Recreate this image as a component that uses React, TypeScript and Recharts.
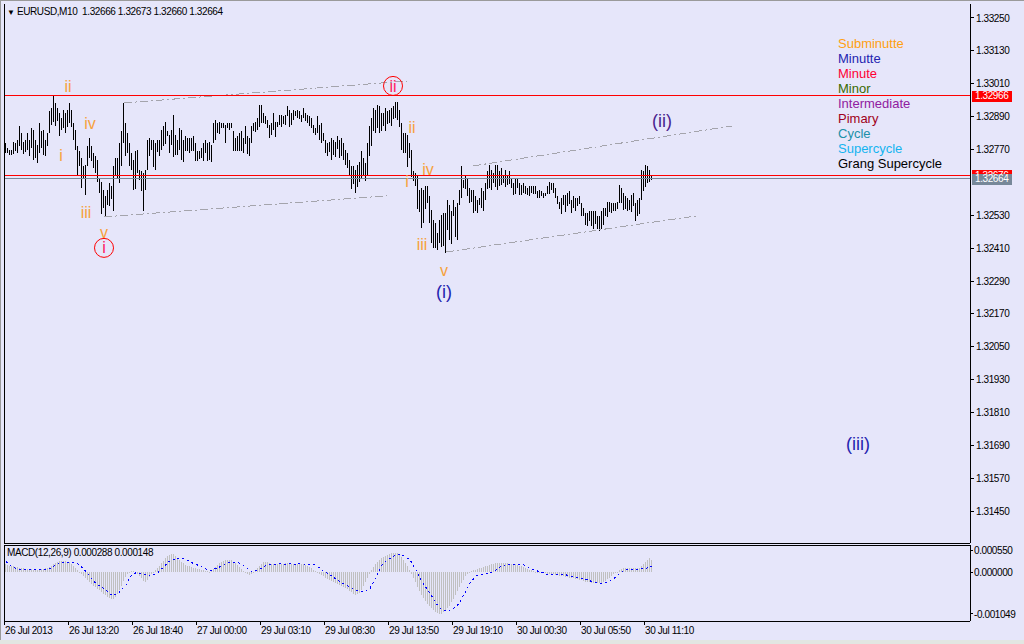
import React from 'react'
import {
  ComposedChart, Bar, Line, XAxis, YAxis, ReferenceLine, ReferenceDot,
} from 'recharts'

// EURUSD M10 bars (high / low per bar)
const highs = [
  1.32793, 1.32775, 1.32769, 1.32769, 1.32799, 1.32793, 1.32805, 1.32854, 1.32830, 1.32799,
  1.32805, 1.32830, 1.32805, 1.32848, 1.32842, 1.32805, 1.32787, 1.32866, 1.32836, 1.32842,
  1.32805, 1.32830, 1.32909, 1.32921, 1.32966, 1.32939, 1.32921, 1.32903, 1.32885, 1.32915,
  1.32903, 1.32915, 1.32939, 1.32915, 1.32866, 1.32842, 1.32781, 1.32763, 1.32739, 1.32708,
  1.32714, 1.32781, 1.32812, 1.32781, 1.32757, 1.32745, 1.32732, 1.32665, 1.32653, 1.32623,
  1.32599, 1.32623, 1.32647, 1.32635, 1.32708, 1.32739, 1.32739, 1.32793, 1.32836, 1.32939,
  1.32866, 1.32830, 1.32793, 1.32757, 1.32732, 1.32763, 1.32769, 1.32696, 1.32690, 1.32684,
  1.32696, 1.32805, 1.32812, 1.32805, 1.32805, 1.32793, 1.32805, 1.32805, 1.32842, 1.32854,
  1.32872, 1.32836, 1.32824, 1.32842, 1.32897, 1.32824, 1.32805, 1.32848, 1.32842, 1.32805,
  1.32818, 1.32812, 1.32812, 1.32812, 1.32818, 1.32793, 1.32763, 1.32763, 1.32775, 1.32793,
  1.32805, 1.32793, 1.32799, 1.32787, 1.32866, 1.32878, 1.32866, 1.32872, 1.32866, 1.32866,
  1.32860, 1.32866, 1.32866, 1.32866, 1.32836, 1.32812, 1.32818, 1.32830, 1.32836, 1.32812,
  1.32854, 1.32818, 1.32812, 1.32854, 1.32866, 1.32872, 1.32885, 1.32933, 1.32933, 1.32903,
  1.32891, 1.32878, 1.32860, 1.32866, 1.32903, 1.32872, 1.32872, 1.32897, 1.32897, 1.32891,
  1.32897, 1.32927, 1.32915, 1.32903, 1.32915, 1.32909, 1.32915, 1.32909, 1.32897, 1.32921,
  1.32903, 1.32897, 1.32891, 1.32885, 1.32860, 1.32848, 1.32891, 1.32860, 1.32866, 1.32830,
  1.32805, 1.32793, 1.32799, 1.32812, 1.32805, 1.32799, 1.32818, 1.32805, 1.32812, 1.32793,
  1.32769, 1.32757, 1.32732, 1.32708, 1.32708, 1.32696, 1.32714, 1.32726, 1.32763, 1.32739,
  1.32720, 1.32793, 1.32854, 1.32885, 1.32921, 1.32915, 1.32933, 1.32927, 1.32903, 1.32903,
  1.32921, 1.32909, 1.32915, 1.32921, 1.32927, 1.32945, 1.32945, 1.32915, 1.32866, 1.32830,
  1.32830, 1.32824, 1.32793, 1.32769, 1.32690, 1.32684, 1.32672, 1.32623, 1.32629, 1.32623,
  1.32635, 1.32635, 1.32599, 1.32550, 1.32513, 1.32501, 1.32465, 1.32513, 1.32532, 1.32538,
  1.32538, 1.32586, 1.32568, 1.32544, 1.32586, 1.32562, 1.32574, 1.32623, 1.32708, 1.32659,
  1.32672, 1.32665, 1.32629, 1.32623, 1.32623, 1.32599, 1.32586, 1.32592, 1.32629, 1.32617,
  1.32647, 1.32690, 1.32714, 1.32696, 1.32684, 1.32714, 1.32714, 1.32690, 1.32702, 1.32678,
  1.32696, 1.32678, 1.32690, 1.32665, 1.32647, 1.32665, 1.32665, 1.32647, 1.32641, 1.32647,
  1.32635, 1.32629, 1.32635, 1.32635, 1.32635, 1.32635, 1.32617, 1.32623, 1.32617, 1.32611,
  1.32611, 1.32635, 1.32653, 1.32647, 1.32647, 1.32629, 1.32599, 1.32580, 1.32592, 1.32605,
  1.32605, 1.32611, 1.32617, 1.32586, 1.32599, 1.32592, 1.32592, 1.32599, 1.32574, 1.32556,
  1.32538, 1.32538, 1.32544, 1.32544, 1.32544, 1.32544, 1.32526, 1.32526, 1.32544, 1.32556,
  1.32556, 1.32580, 1.32580, 1.32574, 1.32574, 1.32574, 1.32580, 1.32641, 1.32629, 1.32611,
  1.32599, 1.32592, 1.32586, 1.32605, 1.32611, 1.32574, 1.32586, 1.32592, 1.32696, 1.32690,
  1.32714, 1.32708, 1.32696, 1.32673,
]

const lows = [
  1.32757, 1.32757, 1.32751, 1.32751, 1.32757, 1.32763, 1.32757, 1.32781, 1.32769, 1.32757,
  1.32763, 1.32769, 1.32745, 1.32775, 1.32732, 1.32739, 1.32720, 1.32757, 1.32775, 1.32751,
  1.32745, 1.32781, 1.32830, 1.32860, 1.32872, 1.32854, 1.32872, 1.32818, 1.32842, 1.32848,
  1.32830, 1.32854, 1.32866, 1.32854, 1.32805, 1.32769, 1.32672, 1.32708, 1.32629, 1.32659,
  1.32605, 1.32708, 1.32739, 1.32726, 1.32702, 1.32684, 1.32653, 1.32611, 1.32538, 1.32556,
  1.32526, 1.32568, 1.32562, 1.32586, 1.32544, 1.32678, 1.32665, 1.32647, 1.32708, 1.32793,
  1.32745, 1.32757, 1.32708, 1.32696, 1.32623, 1.32623, 1.32684, 1.32659, 1.32617, 1.32544,
  1.32623, 1.32696, 1.32745, 1.32769, 1.32708, 1.32696, 1.32763, 1.32745, 1.32769, 1.32781,
  1.32793, 1.32818, 1.32757, 1.32787, 1.32745, 1.32751, 1.32751, 1.32769, 1.32732, 1.32726,
  1.32763, 1.32763, 1.32757, 1.32763, 1.32763, 1.32726, 1.32726, 1.32732, 1.32739, 1.32726,
  1.32757, 1.32726, 1.32732, 1.32726, 1.32793, 1.32805, 1.32830, 1.32830, 1.32848, 1.32848,
  1.32793, 1.32848, 1.32842, 1.32848, 1.32763, 1.32763, 1.32763, 1.32763, 1.32763, 1.32757,
  1.32787, 1.32751, 1.32745, 1.32793, 1.32836, 1.32836, 1.32842, 1.32854, 1.32866, 1.32866,
  1.32860, 1.32848, 1.32812, 1.32824, 1.32842, 1.32818, 1.32854, 1.32860, 1.32854, 1.32860,
  1.32860, 1.32891, 1.32854, 1.32860, 1.32878, 1.32891, 1.32885, 1.32878, 1.32872, 1.32885,
  1.32872, 1.32866, 1.32854, 1.32848, 1.32830, 1.32824, 1.32830, 1.32805, 1.32793, 1.32799,
  1.32757, 1.32745, 1.32763, 1.32732, 1.32751, 1.32745, 1.32769, 1.32739, 1.32745, 1.32732,
  1.32714, 1.32702, 1.32672, 1.32623, 1.32641, 1.32611, 1.32635, 1.32653, 1.32659, 1.32672,
  1.32653, 1.32678, 1.32745, 1.32781, 1.32836, 1.32830, 1.32848, 1.32830, 1.32836, 1.32854,
  1.32836, 1.32860, 1.32866, 1.32854, 1.32878, 1.32885, 1.32878, 1.32854, 1.32769, 1.32757,
  1.32757, 1.32708, 1.32739, 1.32672, 1.32653, 1.32635, 1.32550, 1.32544, 1.32483, 1.32501,
  1.32550, 1.32574, 1.32501, 1.32428, 1.32410, 1.32410, 1.32404, 1.32428, 1.32416, 1.32416,
  1.32392, 1.32477, 1.32440, 1.32422, 1.32526, 1.32453, 1.32440, 1.32568, 1.32592, 1.32629,
  1.32623, 1.32599, 1.32574, 1.32580, 1.32538, 1.32544, 1.32538, 1.32568, 1.32556, 1.32544,
  1.32586, 1.32623, 1.32629, 1.32623, 1.32647, 1.32635, 1.32623, 1.32635, 1.32641, 1.32647,
  1.32635, 1.32641, 1.32641, 1.32629, 1.32605, 1.32605, 1.32629, 1.32605, 1.32605, 1.32611,
  1.32605, 1.32605, 1.32599, 1.32611, 1.32605, 1.32605, 1.32592, 1.32592, 1.32599, 1.32592,
  1.32599, 1.32605, 1.32611, 1.32623, 1.32611, 1.32592, 1.32568, 1.32556, 1.32532, 1.32568,
  1.32544, 1.32562, 1.32568, 1.32538, 1.32556, 1.32544, 1.32562, 1.32568, 1.32526, 1.32526,
  1.32495, 1.32489, 1.32507, 1.32489, 1.32477, 1.32495, 1.32477, 1.32471, 1.32477, 1.32495,
  1.32526, 1.32526, 1.32544, 1.32538, 1.32544, 1.32544, 1.32556, 1.32574, 1.32574, 1.32550,
  1.32550, 1.32544, 1.32550, 1.32544, 1.32562, 1.32507, 1.32526, 1.32532, 1.32586, 1.32617,
  1.32635, 1.32647, 1.32653, 1.32660,
]

const lastOpen = 1.32666
const lastClose = 1.32664

// MACD(12,26,9): main (histogram) and signal (dotted)
const macdMain = [
  0.00020, 0.00018, 0.00016, 0.00015, 0.00014, 0.00013, 0.00012, 0.00011,
  0.00010, 0.00009, 0.00008, 0.00008, 0.00007, 0.00007, 0.00006, 0.00006, 0.00006, 0.00007, 0.00007, 0.00008, 0.00009, 0.00010, 0.00012,
  0.00015, 0.00019, 0.00022, 0.00025, 0.00027, 0.00028, 0.00028, 0.00027, 0.00026, 0.00024, 0.00020, 0.00016, 0.00010, 0.00005, 0.00001,
  -0.00005, -0.00010, -0.00016, -0.00021, -0.00026, -0.00030, -0.00034, -0.00038, -0.00042, -0.00046, -0.00050, -0.00054,
  -0.00058, -0.00062, -0.00066, -0.00068, -0.00067, -0.00062, -0.00055, -0.00046, -0.00035, -0.00022, -0.00012, -0.00006,
  -0.00002, 0.00002, 0.00003, 0.00001, -0.00004, -0.00010, -0.00016, -0.00022, -0.00024, -0.00020, -0.00012, -0.00006, 0.00000, 0.00005,
  0.00010, 0.00016, 0.00022, 0.00028, 0.00034, 0.00039, 0.00043, 0.00045, 0.00044, 0.00040, 0.00035, 0.00030, 0.00026, 0.00022, 0.00018,
  0.00016, 0.00014, 0.00012, 0.00011, 0.00010, 0.00008, 0.00007, 0.00006, 0.00004, 0.00003, 0.00002, 0.00001, 0.00002,
  0.00008, 0.00013, 0.00018, 0.00022, 0.00025, 0.00027, 0.00029, 0.00030, 0.00030, 0.00029, 0.00026, 0.00022, 0.00018, 0.00013, 0.00008, 0.00003, -0.00002,
  -0.00006, -0.00008, -0.00005, -0.00001, 0.00004,
  0.00010, 0.00016, 0.00021, 0.00024, 0.00025, 0.00024, 0.00022, 0.00021, 0.00021, 0.00020, 0.00020, 0.00020, 0.00021, 0.00021,
  0.00022, 0.00022, 0.00022, 0.00021, 0.00021, 0.00021, 0.00020, 0.00020, 0.00019, 0.00019, 0.00017, 0.00015, 0.00012, 0.00009,
  0.00005, 0.00002, -0.00002, -0.00005,
  -0.00008, -0.00011, -0.00014, -0.00017, -0.00020, -0.00023, -0.00026, -0.00028, -0.00030, -0.00032, -0.00034, -0.00037, -0.00040,
  -0.00043, -0.00047, -0.00051, -0.00055, -0.00057, -0.00056, -0.00052, -0.00045, -0.00036, -0.00026, -0.00016, -0.00006, 0.00004,
  0.00013, 0.00020, 0.00026, 0.00031, 0.00035, 0.00038, 0.00041, 0.00043, 0.00045, 0.00047, 0.00048, 0.00048, 0.00047, 0.00044,
  0.00038, 0.00031, 0.00023, 0.00014, 0.00005,
  -0.00005, -0.00016, -0.00026, -0.00037, -0.00047, -0.00057, -0.00066, -0.00073, -0.00079, -0.00085, -0.00091, -0.00096, -0.00100,
  -0.00103, -0.00105, -0.00104, -0.00101, -0.00097, -0.00091, -0.00084, -0.00076, -0.00067, -0.00058, -0.00048, -0.00038, -0.00028,
  -0.00019, -0.00011, -0.00005, -0.00001,
  0.00003, 0.00005, 0.00006, 0.00008, 0.00009, 0.00010, 0.00012, 0.00014, 0.00016, 0.00018, 0.00020, 0.00021, 0.00022, 0.00023, 0.00023,
  0.00023, 0.00023, 0.00022, 0.00022, 0.00021, 0.00021, 0.00020, 0.00019, 0.00018, 0.00016, 0.00014, 0.00012, 0.00010, 0.00008, 0.00006,
  0.00004, 0.00002, 0.00001, 0.00000, -0.00001, -0.00002, -0.00003, -0.00003, -0.00004, -0.00004, -0.00005, -0.00006, -0.00007, -0.00008, -0.00009,
  -0.00010, -0.00011, -0.00012, -0.00013, -0.00014, -0.00015, -0.00016, -0.00017, -0.00018, -0.00019, -0.00021, -0.00022, -0.00024, -0.00025,
  -0.00026, -0.00027, -0.00027, -0.00028, -0.00028, -0.00028, -0.00027, -0.00025, -0.00022, -0.00018, -0.00014, -0.00010, -0.00006, -0.00002, 0.00001,
  0.00004, 0.00007, 0.00009, 0.00010, 0.00010, 0.00010, 0.00010, 0.00010, 0.00009, 0.00009, 0.00010, 0.00014,
  0.00019, 0.00024, 0.00030, 0.00035, 0.000288,
]

const macdSignal = [
  0.00026, 0.00021, 0.00017, 0.00014, 0.00011, 0.00009, 0.00008, 0.00007,
  0.00007, 0.00007, 0.00007, 0.00007, 0.00006, 0.00006, 0.00006, 0.00006, 0.00006, 0.00006, 0.00007, 0.00007, 0.00007, 0.00008,
  0.00009, 0.00012, 0.00015, 0.00018, 0.00020, 0.00022, 0.00023, 0.00023, 0.00024, 0.00024, 0.00024, 0.00024, 0.00023, 0.00022,
  0.00020, 0.00016, 0.00011, 0.00006, 0.00001,
  -0.00005, -0.00011, -0.00018, -0.00024, -0.00028, -0.00032, -0.00036, -0.00039, -0.00042, -0.00045, -0.00050, -0.00055, -0.00058,
  -0.00058, -0.00056, -0.00053, -0.00049, -0.00043, -0.00037, -0.00032, -0.00022, -0.00012,
  -0.00008, -0.00004, -0.00002, -0.00002, -0.00003, -0.00003, -0.00005, -0.00007, -0.00009, -0.00010, -0.00009, -0.00007, -0.00005, -0.00001,
  0.00004, 0.00009, 0.00014, 0.00019, 0.00024, 0.00028, 0.00030, 0.00032, 0.00034, 0.00034, 0.00034, 0.00033, 0.00033, 0.00032,
  0.00029, 0.00026, 0.00023, 0.00021, 0.00019, 0.00017, 0.00015, 0.00012, 0.00010, 0.00007, 0.00006, 0.00005, 0.00005,
  0.00007, 0.00009, 0.00011, 0.00013, 0.00016, 0.00019, 0.00022, 0.00023, 0.00024, 0.00024, 0.00024, 0.00023, 0.00023, 0.00022,
  0.00019, 0.00015, 0.00012, 0.00008, 0.00004, 0.00001,
  0.00002, 0.00004, 0.00005, 0.00007, 0.00010, 0.00014, 0.00017, 0.00018, 0.00019,
  0.00020, 0.00020, 0.00020, 0.00021, 0.00021, 0.00020, 0.00020, 0.00020, 0.00021, 0.00021, 0.00020,
  0.00020, 0.00020, 0.00020, 0.00021, 0.00021, 0.00020, 0.00020, 0.00020, 0.00020, 0.00020, 0.00019,
  0.00017, 0.00013, 0.00009, 0.00005, 0.00002, -0.00001, -0.00004, -0.00007, -0.00011, -0.00014, -0.00018, -0.00021, -0.00024, -0.00027,
  -0.00030, -0.00032, -0.00035, -0.00037, -0.00040, -0.00043, -0.00045, -0.00046, -0.00047, -0.00048, -0.00048, -0.00047, -0.00044, -0.00041,
  -0.00032, -0.00022, -0.00012, -0.00002, 0.00008, 0.00017, 0.00022, 0.00027, 0.00031, 0.00034, 0.00037, 0.00040, 0.00042, 0.00043,
  0.00043, 0.00042, 0.00040, 0.00037, 0.00034, 0.00030,
  0.00022, 0.00013, 0.00005, -0.00005, -0.00015, -0.00024, -0.00031, -0.00039, -0.00046, -0.00053, -0.00061, -0.00070, -0.00078, -0.00084,
  -0.00090, -0.00095, -0.00096, -0.00096, -0.00096, -0.00095, -0.00093, -0.00090, -0.00087, -0.00081, -0.00074, -0.00066, -0.00056, -0.00047,
  -0.00037, -0.00028,
  -0.00022, -0.00016, -0.00010, -0.00009, -0.00007, -0.00006, -0.00005, -0.00004, -0.00003, -0.00002, 0.00000, 0.00002, 0.00005, 0.00008,
  0.00012, 0.00015, 0.00017, 0.00018, 0.00019,
  0.00019, 0.00020, 0.00020, 0.00020, 0.00019, 0.00019, 0.00019,
  0.00018, 0.00015, 0.00012, 0.00009, 0.00007, 0.00005, 0.00004, 0.00002, 0.00001, -0.00001, -0.00003, -0.00005, -0.00005, -0.00005,
  -0.00005, -0.00005, -0.00005, -0.00005, -0.00005,
  -0.00006, -0.00006, -0.00007, -0.00009, -0.00010, -0.00012, -0.00013, -0.00014, -0.00015, -0.00016, -0.00017, -0.00017, -0.00018, -0.00020,
  -0.00022, -0.00024, -0.00025, -0.00026, -0.00027, -0.00028, -0.00028, -0.00028, -0.00027, -0.00025, -0.00023, -0.00020, -0.00016, -0.00011,
  -0.00007, -0.00003,
  0.00000, 0.00003, 0.00005, 0.00006, 0.00007, 0.00007, 0.00007, 0.00007, 0.00007, 0.00007, 0.00008, 0.00008, 0.00009, 0.00011, 0.00013, 0.000148,
]

const priceTicks = [
  1.3325, 1.3313, 1.3301, 1.3289, 1.3277, 1.3253, 1.3241, 1.3229,
  1.3217, 1.3205, 1.3193, 1.3181, 1.3169, 1.3157, 1.3145,
]
const macdTicks = [0.00055, 0, -0.001049]

const timeTicks = [-1, 31, 63, 95, 127, 159, 191, 223, 255, 287, 319]
const timeLabels = [
  '26 Jul 2013', '26 Jul 13:20', '26 Jul 18:40', '27 Jul 00:00', '29 Jul 03:10', '29 Jul 08:30',
  '29 Jul 13:50', '29 Jul 19:10', '30 Jul 00:30', '30 Jul 05:50', '30 Jul 11:10',
]

const priceLevels = [
  { value: 1.32966, color: '#ff0000' },
  { value: 1.32676, color: '#ff0000' },
  { value: 1.32664, color: '#778899' },
]

// channel lines: [bar1, price1, bar2, price2]
const channels = [
  [59, 1.3294, 200.5, 1.3302],
  [49, 1.32524, 190.5, 1.32601],
  [233.5, 1.3271, 363, 1.32856],
  [220, 1.32396, 345.5, 1.32528],
]

const ORANGE = '#f7a13c'
const NAVY = '#2424b0'

const waveLabels = [
  { text: 'ii', bar: 31, price: 1.33001, color: ORANGE, size: 16 },
  { text: 'iv', bar: 42, price: 1.32867, color: ORANGE, size: 16 },
  { text: 'i', bar: 27.5, price: 1.32747, color: ORANGE, size: 16 },
  { text: 'iii', bar: 40, price: 1.32542, color: ORANGE, size: 16 },
  { text: 'v', bar: 49, price: 1.32466, color: ORANGE, size: 16 },
  { text: 'i', bar: 49, price: 1.32411, color: '#ff2060', size: 16, circle: true },
  { text: 'ii', bar: 193.5, price: 1.33002, color: '#ff2060', size: 16, circle: true },
  { text: 'ii', bar: 203, price: 1.32852, color: ORANGE, size: 16 },
  { text: 'iv', bar: 211, price: 1.32696, color: ORANGE, size: 16 },
  { text: 'i', bar: 200.5, price: 1.32652, color: ORANGE, size: 16 },
  { text: 'iii', bar: 208, price: 1.32425, color: ORANGE, size: 16 },
  { text: 'v', bar: 219, price: 1.32327, color: ORANGE, size: 16 },
  { text: '(i)', bar: 219, price: 1.3225, color: NAVY, size: 18 },
  { text: '(ii)', bar: 328, price: 1.32874, color: '#4b1f8f', size: 18 },
  { text: '(iii)', bar: 426, price: 1.31695, color: NAVY, size: 18 },
]

const legendNames = [
  'Subminutte', 'Minutte', 'Minute', 'Minor', 'Intermediate', 'Pimary', 'Cycle', 'Supercycle', 'Grang Supercycle',
]
const legendColors = [
  '#ffa010', NAVY, '#ff0033', '#3a6a00', '#9020a0', '#a00020', '#2090a8', '#14b4f0', '#000000',
]

const FONT = "'Liberation Sans', Arial, sans-serif"
const BG = '#e6e6fa'

const data = highs.map((h, i) => ({
  i,
  hl: [lows[i], h],
  macd: macdMain[i],
  signal: macdSignal[i],
}))

function HLBar(props: any) {
  const { x, y, width, height } = props
  if (x == null || y == null) return null
  const cx = Math.floor(x + width / 2)
  const top = Math.min(y, y + height)
  const h = Math.max(1, Math.abs(height))
  return <rect x={cx} y={Math.round(top)} width={1} height={Math.round(h)} fill="#000000" />
}

function MacdBar(props: any) {
  const { x, y, width, height } = props
  if (x == null || y == null) return null
  const cx = Math.floor(x + width / 2)
  const top = Math.min(y, y + height)
  const h = Math.max(1, Math.abs(height))
  return <rect x={cx} y={Math.round(top)} width={1} height={Math.round(h)} fill="#c0c0c0" />
}

function priceBox(level: { value: number; color: string }) {
  return (props: any) => {
    const vb = props.viewBox || {}
    const left = (vb.x ?? 4) + (vb.width ?? 966) + 2
    const cy = vb.y ?? 0
    return (
      <g>
        <rect x={left} y={cy - 5} width={40} height={11} fill={level.color} />
        <text x={left + 3} y={cy} dy="0.36em" fill="#ffffff" fontSize={10}
          fontFamily={FONT} letterSpacing={-0.4}>
          {level.value.toFixed(5)}
        </text>
      </g>
    )
  }
}

function waveShape(w: any) {
  return (props: any) => (
    <g>
      {w.circle && (
        <circle cx={props.cx} cy={props.cy} r={9.5} fill="none" stroke="#ff0000" strokeWidth={1} />
      )}
      <text x={props.cx} y={props.cy} dy="0.35em" textAnchor="middle" fill={w.color}
        fontSize={w.size} fontFamily={FONT}>
        {w.text}
      </text>
    </g>
  )
}

function TimeTick(props: any) {
  const idx = timeTicks.indexOf(props.payload.value)
  return (
    <text x={props.x + 1} y={props.y} dy={7} fill="#000" fontSize={10}
      fontFamily={FONT} letterSpacing={-0.4} textAnchor="start">
      {timeLabels[idx]}
    </text>
  )
}

const axisTick = { fill: '#000', fontSize: 10, fontFamily: FONT, letterSpacing: -0.4 }

export default function App() {
  const last = highs.length - 1
  return (
    <div style={{
      position: 'absolute', left: 0, top: 0, width: 1024, height: 644,
      background: BG, overflow: 'hidden', fontFamily: FONT,
    }}>
      <style>{'.recharts-surface line, .recharts-surface rect, .recharts-surface path { shape-rendering: crispEdges; }'}</style>

      {/* price window */}
      <div style={{ position: 'absolute', left: 0, top: 0 }}>
        <ComposedChart width={1024} height={545} data={data}
          margin={{ top: 4, right: 0, bottom: 2, left: 4 }}>
          <XAxis dataKey="i" type="number" domain={[-1, 482]} hide allowDataOverflow />
          <YAxis orientation="right" type="number" domain={[1.31334, 1.33301]} allowDataOverflow
            ticks={priceTicks} interval={0} width={54} tickSize={4} tickMargin={2}
            tickFormatter={(v: number) => v.toFixed(5)}
            axisLine={{ stroke: '#000' }} tickLine={{ stroke: '#000' }} tick={axisTick} />
          <Bar dataKey="hl" barSize={1} shape={HLBar} isAnimationActive={false} />
          {channels.map((c, k) => (
            <ReferenceLine key={'c' + k} segment={[{ x: c[0], y: c[1] }, { x: c[2], y: c[3] }]}
              stroke="#a4a4ac" strokeDasharray="8 3 2 3" />
          ))}
          {priceLevels.map((lv, k) => (
            <ReferenceLine key={'p' + k} y={lv.value} stroke={lv.color} strokeWidth={1}
              label={priceBox(lv)} />
          ))}
          {waveLabels.map((w, k) => (
            <ReferenceDot key={'w' + k} x={w.bar} y={w.price} r={0} shape={waveShape(w)} />
          ))}
        </ComposedChart>
      </div>

      {/* MACD window */}
      <div style={{ position: 'absolute', left: 0, top: 545 }}>
        <ComposedChart width={1024} height={99} data={data}
          margin={{ top: 0, right: 0, bottom: 0, left: 4 }}>
          <XAxis dataKey="i" type="number" domain={[-1, 482]} allowDataOverflow
            ticks={timeTicks} interval={0} height={23} tickSize={4} tickMargin={2}
            axisLine={false} tickLine={{ stroke: '#000' }} tick={TimeTick} />
          <YAxis orientation="right" type="number" domain={[-0.001225, 0.000675]} allowDataOverflow
            ticks={macdTicks} interval={0} width={54} tickSize={3} tickMargin={1}
            tickFormatter={(v: number) => v.toFixed(6)}
            axisLine={{ stroke: '#000' }} tickLine={{ stroke: '#000' }} tick={axisTick} />
          <Bar dataKey="macd" barSize={1} shape={MacdBar} isAnimationActive={false} />
          <Line dataKey="signal" type="linear" stroke="#0000ff" strokeWidth={1}
            strokeDasharray="2 3" dot={false} activeDot={false} isAnimationActive={false} />
        </ComposedChart>
      </div>

      {/* window frames */}
      <div style={{ position: 'absolute', left: 0, top: 0, width: 1024, height: 1, background: '#9a9a9a' }} />
      <div style={{ position: 'absolute', left: 0, top: 0, width: 1, height: 644, background: '#9a9a9a' }} />
      <div style={{ position: 'absolute', left: 4, top: 4, width: 1, height: 540, background: '#000' }} />
      <div style={{ position: 'absolute', left: 4, top: 543, width: 966, height: 1, background: '#000' }} />
      <div style={{ position: 'absolute', left: 4, top: 545, width: 966, height: 1, background: '#000' }} />
      <div style={{ position: 'absolute', left: 4, top: 545, width: 1, height: 77, background: '#000' }} />
      <div style={{ position: 'absolute', left: 4, top: 621, width: 966, height: 1, background: '#000' }} />
      <div style={{ position: 'absolute', left: 0, top: 640, width: 1024, height: 4, background: '#e2e6e2' }} />

      {/* header */}
      <div style={{
        position: 'absolute', left: 7, top: 6, fontSize: 10, lineHeight: '12px',
        letterSpacing: -0.4, whiteSpace: 'pre', color: '#000',
      }}>
        <span style={{ fontSize: 8 }}>▼</span>
        {' EURUSD,M10  ' + [lastOpen, highs[last], lows[last], lastClose].map((v) => v.toFixed(5)).join(' ')}
      </div>
      <div style={{
        position: 'absolute', left: 7, top: 547, fontSize: 10, lineHeight: '12px',
        letterSpacing: -0.4, whiteSpace: 'pre', color: '#000',
      }}>
        {'MACD(12,26,9) ' + macdMain[last].toFixed(6) + ' ' + macdSignal[last].toFixed(6)}
      </div>

      {/* wave degree legend */}
      {legendNames.map((name, k) => (
        <div key={name} style={{
          position: 'absolute', left: 838, top: 37 + k * 15, fontSize: 13, lineHeight: '14px',
          color: legendColors[k], whiteSpace: 'pre',
        }}>
          {name}
        </div>
      ))}
    </div>
  )
}
